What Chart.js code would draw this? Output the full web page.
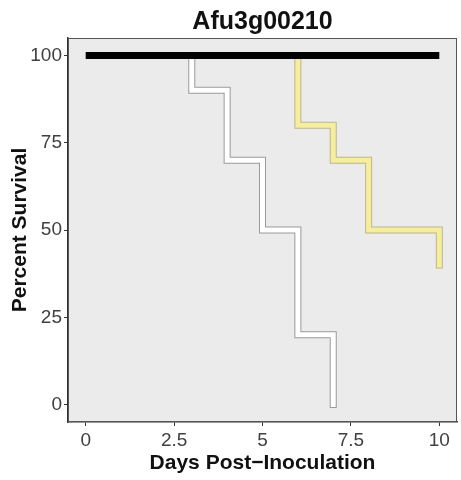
<!DOCTYPE html>
<html>
<head>
<meta charset="utf-8">
<script src="https://cdn.jsdelivr.net/npm/chart.js@4"></script>
<style>
  body { margin: 0; background: #fff; }
</style>
</head>
<body>
<canvas id="km" width="461" height="480"></canvas>
<script>
const xTicks = [0, 2.5, 5, 7.5, 10];
const yTicks = [0, 25, 50, 75, 100];

// survival curves (day, percent)
const controlDays = [0, 10];
const controlSurv = [100, 100];
const whiteDays = [3, 3, 4, 5, 6, 7];
const whiteSurv = [100, 90, 70, 50, 20, 0];
const yellowDays = [6, 6, 7, 8, 10];
const yellowSurv = [100, 80, 70, 50, 40];

const toPts = (xs, ys) => xs.map((x, i) => ({ x: x, y: ys[i] }));

const font = 'Liberation Sans, Arial, Helvetica, sans-serif';

const panelBg = {
  id: 'panelBg',
  beforeDraw(chart) {
    const a = chart.chartArea, c = chart.ctx;
    c.save();
    c.fillStyle = '#ebebeb';
    c.fillRect(a.left, a.top, a.right - a.left, a.bottom - a.top);
    c.restore();
  },
  afterDraw(chart) {
    const a = chart.chartArea, c = chart.ctx;
    c.save();
    c.strokeStyle = '#555';
    c.lineWidth = 1;
    c.strokeRect(a.left + 0.5, a.top + 0.5, a.right - a.left - 1, a.bottom - a.top - 1);
    c.restore();
  }
};

function stepLine(pts, color, width, order, cap) {
  return {
    data: pts,
    borderColor: color,
    borderWidth: width,
    stepped: true,
    pointRadius: 0,
    borderCapStyle: cap,
    borderJoinStyle: 'miter',
    order: order,
    xAxisID: 'x',
    yAxisID: 'y'
  };
}

new Chart(document.getElementById('km'), {
  type: 'line',
  data: {
    datasets: [
      stepLine(toPts(controlDays, controlSurv), '#000', 7, 0, 'butt'),
      stepLine(toPts(whiteDays, whiteSurv), '#ffffff', 5, 1, 'square'),
      stepLine(toPts(whiteDays, whiteSurv), '#9a9a9a', 7, 2, 'square'),
      stepLine(toPts(yellowDays, yellowSurv), '#f5eea0', 5, 3, 'square'),
      stepLine(toPts(yellowDays, yellowSurv), '#bdb784', 7, 4, 'square')
    ]
  },
  options: {
    responsive: false,
    animation: false,
    layout: { padding: { left: 0, right: 4, top: 0, bottom: 0 } },
    plugins: { legend: { display: false }, tooltip: { enabled: false } },
    scales: {
      x: {
        type: 'linear',
        position: 'bottom',
        min: -0.5,
        max: 10.5,
        afterBuildTicks: s => { s.ticks = xTicks.map(v => ({ value: v })); },
        afterFit: s => { s.height = 58; },
        grid: { drawOnChartArea: false, drawTicks: true, tickLength: 4, color: '#333' },
        border: { display: true, color: '#333', width: 1.5 },
        ticks: { color: '#404040', font: { family: font, size: 19 }, padding: 3, maxRotation: 0 },
        title: {
          display: true,
          text: 'Days Post\u2212Inoculation',
          color: '#111',
          font: { family: font, size: 21, weight: 'bold' },
          padding: { top: 0, bottom: 4 }
        }
      },
      top: {
        type: 'linear',
        position: 'top',
        afterFit: s => { s.height = 38; },
        grid: { display: false },
        border: { display: false },
        ticks: { display: false },
        title: {
          display: true,
          text: 'Afu3g00210',
          color: '#111',
          font: { family: font, size: 25, weight: 'bold' },
          padding: { top: 7, bottom: 0 }
        }
      },
      y: {
        type: 'linear',
        min: -5,
        max: 105,
        afterBuildTicks: s => { s.ticks = yTicks.map(v => ({ value: v })); },
        afterFit: s => { s.width = 68; },
        grid: { drawOnChartArea: false, drawTicks: true, tickLength: 4, color: '#333' },
        border: { display: true, color: '#333', width: 1.5 },
        ticks: { color: '#404040', font: { family: font, size: 19 }, padding: 2 },
        title: {
          display: true,
          text: 'Percent Survival',
          color: '#111',
          font: { family: font, size: 21, weight: 'bold' },
          padding: { top: 8, bottom: 0 }
        }
      }
    }
  },
  plugins: [panelBg]
});
</script>
</body>
</html>
